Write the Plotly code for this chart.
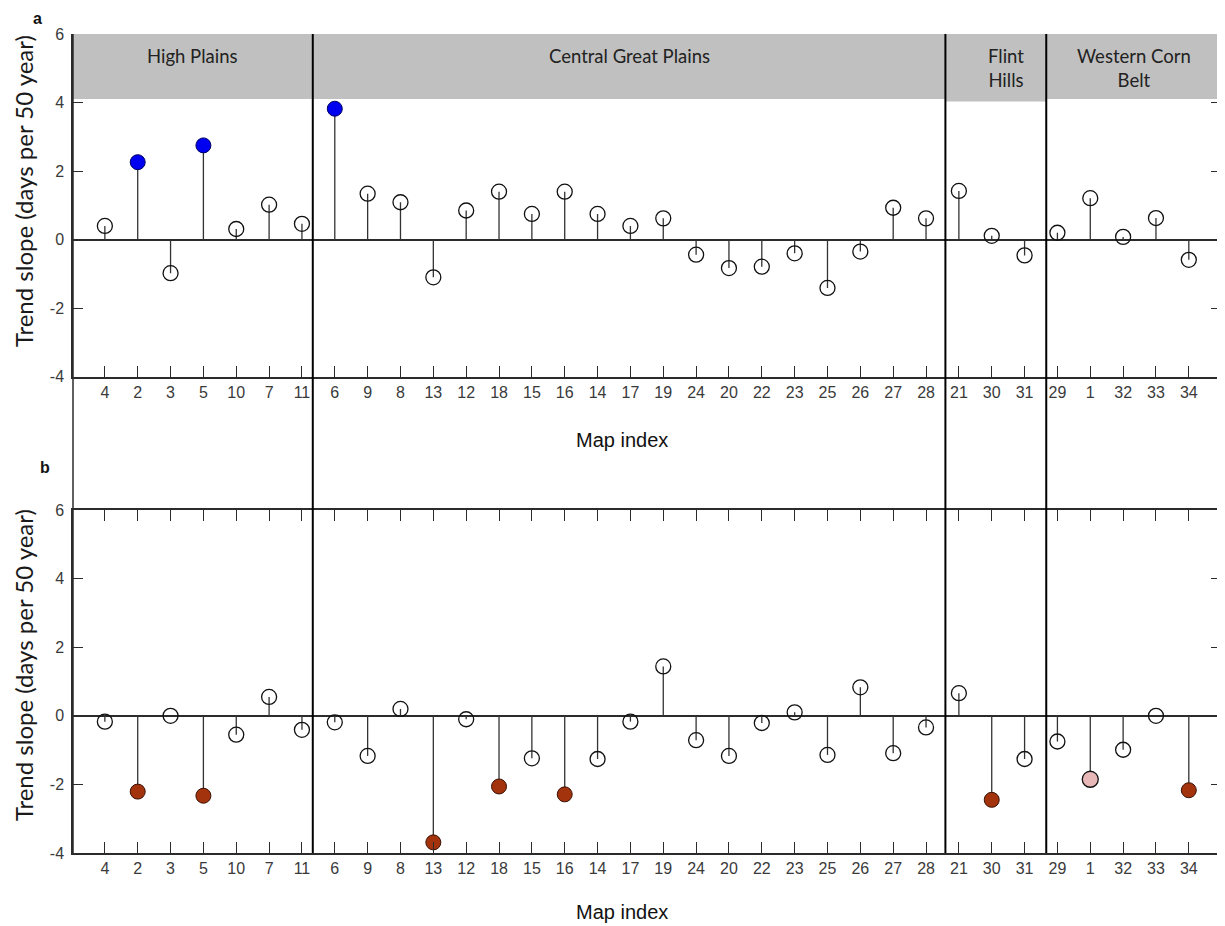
import plotly.graph_objects as go

# ---------------- data ----------------
region_names = ["High Plains", "Central Great Plains", "Flint<br>Hills", "Western Corn<br>Belt"]
region_map_index = [
    ["4", "2", "3", "5", "10", "7", "11"],
    ["6", "9", "8", "13", "12", "18", "15", "16", "14", "17", "19",
     "24", "20", "22", "23", "25", "26", "27", "28"],
    ["21", "30", "31"],
    ["29", "1", "32", "33", "34"],
]

# panel a trend slopes (days per 50 year)
slope_a = [0.40, 2.26, -0.98, 2.75, 0.31, 1.02, 0.46,
           3.82, 1.34, 1.09, -1.10, 0.85, 1.40, 0.75, 1.40, 0.75, 0.40, 0.62,
           -0.44, -0.83, -0.79, -0.40, -1.41, -0.35, 0.93, 0.62,
           1.42, 0.11, -0.46,
           0.20, 1.21, 0.08, 0.63, -0.59]
# significance class for panel a ("" = not significant)
sig_a = ["", "pos", "", "pos", "", "", "",
         "pos", "", "", "", "", "", "", "", "", "", "",
         "", "", "", "", "", "", "", "",
         "", "", "",
         "", "", "", "", ""]

# panel b trend slopes
slope_b = [-0.17, -2.21, 0.00, -2.33, -0.55, 0.55, -0.41,
           -0.19, -1.17, 0.20, -3.69, -0.10, -2.06, -1.24, -2.29, -1.26, -0.17, 1.44,
           -0.71, -1.17, -0.21, 0.10, -1.14, 0.83, -1.09, -0.34,
           0.66, -2.45, -1.26,
           -0.75, -1.85, -0.99, 0.00, -2.17]
sig_b = ["", "neg", "", "neg", "", "", "",
         "", "", "", "neg", "", "neg", "", "neg", "", "", "",
         "", "", "", "", "", "", "", "",
         "", "neg", "",
         "", "weak", "", "", "neg"]

y_ticks = [-4, -2, 0, 2, 4, 6]
y_tick_text = ["-4", "-2", "0", "2", "4", "6"]

# ---------------- styles ----------------
OFF = 8                      # page body margin
W, H = 1225 - OFF, 926 - OFF
L, R, T, B = 73 - OFF, 2, 34 - OFF, 73
plot_h = H - T - B
plot_w = W - L - R
AX = "#2b2b2b"
TICKFONT = dict(family="Liberation Sans, Arial, sans-serif", size=16, color="#3a3a3a")
LABFONT = dict(family="Lato, Open Sans, sans-serif", size=24, color="#1a1a1a")
HDRFONT = dict(family="Lato, Open Sans, sans-serif", size=18.5, color="#222222")
marker_styles = {
    "": dict(symbol="circle-open", size=15, color="#111111", line=dict(width=1.3, color="#111111")),
    "pos": dict(symbol="circle", size=15, color="#0000f0", line=dict(width=1, color="#000060")),
    "neg": dict(symbol="circle", size=15, color="#a2330c", line=dict(width=1, color="#3a1005")),
    "weak": dict(symbol="circle", size=16, color="#e8b8b8", line=dict(width=1.3, color="#111111")),
}
# separator offsets past the last category of each region (category units)
sep_offset = [0.33, 0.59, 0.66]
hdr_bottom = [4.1, 4.1, 4.03, 4.1]
hdr_xshift = [0, 0, 10, 0]

labels = [m for grp in region_map_index for m in grp]
xpos = list(range(len(labels)))
x_range = [-0.97, 33.98]


def py(pix):
    # screenshot pixel row -> paper y
    return (OFF + H - B - pix) / plot_h


def px(pix):
    # screenshot pixel column -> paper x
    return (pix - OFF - L) / plot_w


dom_a = [py(376.7), 1.0]
dom_b = [0.0, py(510)]

fig = go.Figure()


def add_panel(vals, sigs, xa, ya):
    sx, sy = [], []
    for x, v in zip(xpos, vals):
        sx += [x, x, None]
        sy += [0, v, None]
    fig.add_trace(go.Scatter(x=sx, y=sy, mode="lines", xaxis=xa, yaxis=ya,
                             line=dict(color="#333333", width=1.3),
                             hoverinfo="skip", showlegend=False))
    for cls, st in marker_styles.items():
        xs = [x for x, s in zip(xpos, sigs) if s == cls]
        ys = [v for v, s in zip(vals, sigs) if s == cls]
        if xs:
            fig.add_trace(go.Scatter(x=xs, y=ys, mode="markers", xaxis=xa, yaxis=ya,
                                     marker=st, showlegend=False))


add_panel(slope_a, sig_a, "x", "y")
add_panel(slope_b, sig_b, "x2", "y2")

xcommon = dict(range=x_range, tickmode="array", tickvals=xpos, ticktext=labels,
               ticks="inside", ticklen=11, tickcolor=AX, tickwidth=1.2,
               showline=True, linecolor=AX, linewidth=1.5, showgrid=False,
               zeroline=False, tickfont=TICKFONT, domain=[0, 1])
ycommon = dict(range=[-4, 6], tickmode="array", tickvals=y_ticks, ticktext=y_tick_text,
               ticks="inside", ticklen=10, tickcolor=AX, tickwidth=1.2,
               showline=True, linecolor=AX, linewidth=1.5, mirror="ticks",
               showgrid=False, zeroline=True, zerolinecolor=AX, zerolinewidth=1.5,
               tickfont=TICKFONT, ticklabelstandoff=4)

fig.update_layout(
    width=W, height=H,
    margin=dict(l=L, r=R, t=T, b=B),
    paper_bgcolor="white", plot_bgcolor="white",
    xaxis=dict(xcommon, anchor="y", mirror=False),
    yaxis=dict(ycommon, domain=dom_a, anchor="x"),
    xaxis2=dict(xcommon, anchor="y2", mirror="ticks"),
    yaxis2=dict(ycommon, domain=dom_b, anchor="x2"),
)

# region boundaries
ends = []
c = 0
for grp in region_map_index:
    c += len(grp)
    ends.append(c - 1)
bounds = [x_range[0]] + [ends[i] + sep_offset[i] for i in range(3)] + [x_range[1]]

shapes = []
# header boxes (panel a)
for i in range(4):
    shapes.append(dict(type="rect", xref="x", yref="y", x0=bounds[i], x1=bounds[i + 1],
                       y0=hdr_bottom[i], y1=6, fillcolor="#c0c0c0", line=dict(width=0),
                       layer="above"))
# region separators through both panels
for b in bounds[1:4]:
    shapes.append(dict(type="line", xref="x", yref="paper", x0=b, x1=b, y0=0, y1=1,
                       line=dict(color="#000000", width=2), layer="above"))
# outer frame left/right
for xp in (0, 1):
    shapes.append(dict(type="line", xref="paper", yref="paper", x0=xp, x1=xp, y0=0, y1=1,
                       line=dict(color=AX, width=1.5), layer="above"))
fig.update_layout(shapes=shapes)

ann = []
for i, name in enumerate(region_names):
    ann.append(dict(text=name, xref="x", yref="y", x=(bounds[i] + bounds[i + 1]) / 2,
                    y=5.0 if "<br>" in name else 5.35, xshift=hdr_xshift[i],
                    showarrow=False, font=HDRFONT, align="center"))
for yc in (191, 665):
    ann.append(dict(text="Trend slope (days per 50 year)", xref="paper", yref="paper",
                    x=px(23), y=py(yc), textangle=-90, showarrow=False,
                    font=LABFONT, xanchor="center", yanchor="middle"))
for yc in (440, 912):
    ann.append(dict(text="Map index", xref="paper", yref="paper", x=px(623),
                    y=py(yc), showarrow=False, xanchor="center", yanchor="middle",
                    font=dict(family="Liberation Sans, Arial, sans-serif", size=20, color="#111111")))
for txt, xp_, yp in (("a", 37, 18), ("b", 45, 467)):
    ann.append(dict(text="<b>%s</b>" % txt, xref="paper", yref="paper", x=px(xp_),
                    y=py(yp), showarrow=False, xanchor="center", yanchor="middle",
                    font=dict(family="Liberation Sans, Arial, sans-serif", size=16, color="#111111")))
fig.update_layout(annotations=ann)

fig.write_html("out.html")
